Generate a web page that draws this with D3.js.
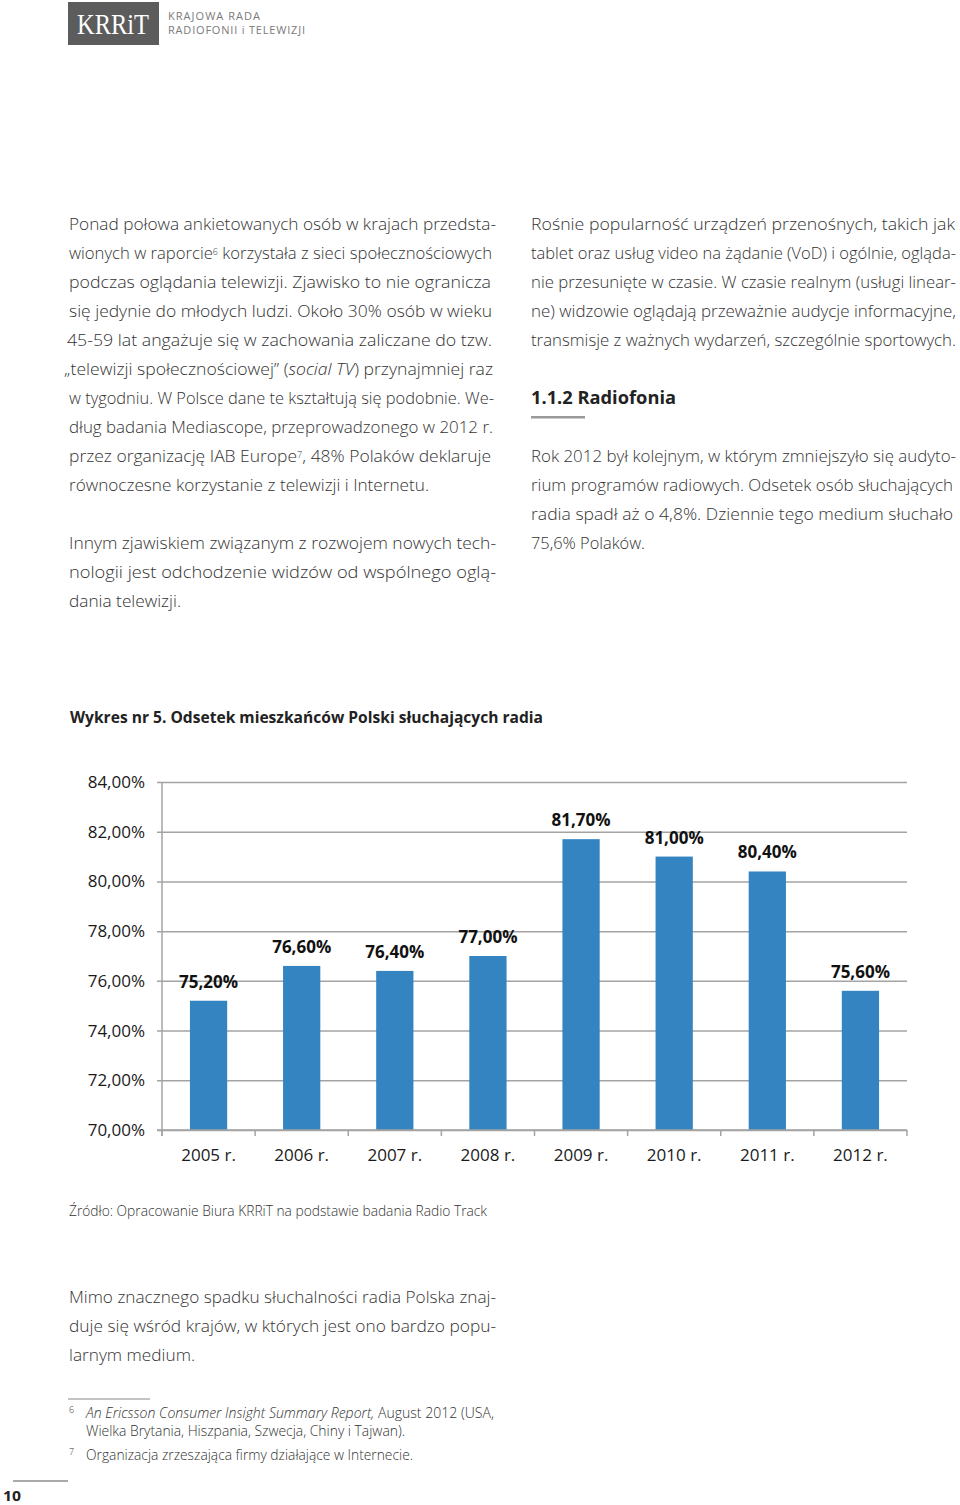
<!DOCTYPE html>
<html><head><meta charset="utf-8">
<script src="https://cdn.jsdelivr.net/npm/d3@7"></script>
<style>body{margin:0;background:#fff}svg{display:block}</style>
</head><body><svg id="c" width="960" height="1505"></svg>
<script>
// ---- chart data ----
const categories = ["2005 r.","2006 r.","2007 r.","2008 r.","2009 r.","2010 r.","2011 r.","2012 r."];
const values = [75.2, 76.6, 76.4, 77.0, 81.7, 81.0, 80.4, 75.6];
const yTicks = [70, 72, 74, 76, 78, 80, 82, 84];
const chartTitle = "Wykres nr 5. Odsetek mieszkańców Polski słuchających radia";
const sourceText = "Źródło: Opracowanie Biura KRRiT na podstawie badania Radio Track";

const fmt = v => d3.format(".2f")(v).replace(".", ",") + "%";
const svg = d3.select("#c");
const BODY = "'Open Sans', 'Noto Sans', sans-serif";
const TXT = "#333";

// ---- page furniture ----
const hdr = svg.append("g");
hdr.append("rect").attr("x",68).attr("y",2).attr("width",91).attr("height",43).attr("fill","#5c5c5c");
hdr.append("text").attr("x",113).attr("y",34).attr("text-anchor","middle")
  .attr("font-family","'Liberation Serif','DejaVu Serif',serif").attr("font-size",30)
  .attr("fill","#fff").attr("textLength",72).attr("lengthAdjust","spacingAndGlyphs").text("KRRiT");
hdr.append("text").attr("x",168).attr("y",20).attr("font-family",BODY).attr("font-size",11)
  .attr("fill","#7a7a7a").attr("textLength",92).attr("lengthAdjust","spacing").text("KRAJOWA RADA");
hdr.append("text").attr("x",168).attr("y",34).attr("font-family",BODY).attr("font-size",11)
  .attr("fill","#7a7a7a").attr("textLength",137).attr("lengthAdjust","spacing").text("RADIOFONII i TELEWIZJI");

function line(x, y, segs, width, opts={}) {
  let size = opts.size || 17;
  const t = svg.append("text").attr("x", x).attr("y", y)
    .attr("font-family", opts.family || BODY).attr("font-size", size)
    .attr("font-weight", opts.weight || 300).attr("fill", opts.fill || TXT);
  segs.forEach(s => {
    if (typeof s === "string") t.append("tspan").text(s);
    else if (s.sup) t.append("tspan").attr("baseline-shift","4").attr("font-size",9).text(s.s);
    else if (s.it) t.append("tspan").attr("font-style","italic").text(s.s);
  });
  if (width) {
    const natural = t.node().getComputedTextLength();
    if (x + natural > 956) {
      size = size * (956 - x) / natural;
      t.attr("font-size", size.toFixed(2));
    }
    t.attr("textLength", width).attr("lengthAdjust","spacingAndGlyphs");
  }
  return t;
}

const bodyLines = [
  [224, 69, 496, ["Ponad połowa ankietowanych osób w krajach przedsta-"]],
  [253, 69, 492, ["wionych w raporcie", {s:"6",sup:true}, " korzystała z sieci społecznościowych"]],
  [282, 69, 491, ["podczas oglądania telewizji. Zjawisko to nie ogranicza"]],
  [311, 69, 492, ["się jedynie do młodych ludzi. Około 30% osób w wieku"]],
  [340, 67, 492, ["45-59 lat angażuje się w zachowania zaliczane do tzw."]],
  [369, 64, 493, ["„telewizji społecznościowej” (", {s:"social TV",it:true}, ") przynajmniej raz"]],
  [398, 69, 494, ["w tygodniu. W Polsce dane te kształtują się podobnie. We-"]],
  [427, 69, 493, ["dług badania Mediascope, przeprowadzonego w 2012 r."]],
  [456, 69, 491, ["przez organizację IAB Europe", {s:"7",sup:true}, ", 48% Polaków deklaruje"]],
  [485, 69, 429, ["równoczesne korzystanie z telewizji i Internetu."]],
  [543, 69, 496, ["Innym zjawiskiem związanym z rozwojem nowych tech-"]],
  [572, 69, 496, ["nologii jest odchodzenie widzów od wspólnego oglą-"]],
  [601, 69, 181, ["dania telewizji."]],
  [224, 531, 955, ["Rośnie popularność urządzeń przenośnych, takich jak"]],
  [253, 531, 956, ["tablet oraz usług video na żądanie (VoD) i ogólnie, ogląda-"]],
  [282, 531, 956, ["nie przesunięte w czasie. W czasie realnym (usługi linear-"]],
  [311, 531, 956, ["ne) widzowie oglądają przeważnie audycje informacyjne,"]],
  [340, 531, 956, ["transmisje z ważnych wydarzeń, szczególnie sportowych."]],
  [456, 531, 956, ["Rok 2012 był kolejnym, w którym zmniejszyło się audyto-"]],
  [485, 531, 953, ["rium programów radiowych. Odsetek osób słuchających"]],
  [514, 531, 953, ["radia spadł aż o 4,8%. Dziennie tego medium słuchało"]],
  [543, 531, 645, ["75,6% Polaków."]],
  [1297, 69, 496, ["Mimo znacznego spadku słuchalności radia Polska znaj-"]],
  [1326, 69, 496, ["duje się wśród krajów, w których jest ono bardzo popu-"]],
  [1355, 69, 195, ["larnym medium."]]
];
bodyLines.forEach(([cy, x0, x1, segs]) => line(x0, cy + 6, segs, x1 - x0));

line(531, 404, ["1.1.2 Radiofonia"], 145, {weight:700, fill:"#222"});
svg.append("rect").attr("x",531).attr("y",416).attr("width",54).attr("height",2.5).attr("fill","#9a9a9a");

line(70, 723, [chartTitle], 473, {weight:700, size:16, fill:"#222"});
line(69, 1216, [sourceText], 418, {size:14});

// footnotes
svg.append("line").attr("x1",68).attr("x2",150).attr("y1",1399).attr("y2",1399).attr("stroke","#888").attr("stroke-width",1);
line(69, 1413, ["6"], null, {size:9});
line(86, 1418, [{s:"An Ericsson Consumer Insight Summary Report,",it:true}, " August 2012 (USA,"], 408, {size:14});
line(86, 1436, ["Wielka Brytania, Hiszpania, Szwecja, Chiny i Tajwan)."], 319, {size:14});
line(69, 1455, ["7"], null, {size:9});
line(86, 1460, ["Organizacja zrzeszająca firmy działające w Internecie."], 327, {size:14});
svg.append("line").attr("x1",13).attr("x2",68).attr("y1",1481).attr("y2",1481).attr("stroke","#555").attr("stroke-width",1);
line(3, 1501, ["10"], 18, {weight:700, size:14, fill:"#222"});

// ---- chart ----
const x = d3.scaleBand().domain(categories).range([162, 907]).paddingInner(0.6).paddingOuter(0.3);
const y = d3.scaleLinear().domain([70, 84]).range([1130, 782]);
const GRID = "#a3a3a3";
const ch = svg.append("g");

// gridlines + y labels via axis
const yAxis = d3.axisLeft(y).tickValues(yTicks).tickFormat(fmt).tickSize(-750).tickPadding(12);
const ya = ch.append("g").attr("transform","translate(157,0)").call(yAxis);
ya.select(".domain").remove();
ya.selectAll(".tick line").attr("stroke", GRID).attr("stroke-width",1.5);
ya.selectAll(".tick text").attr("font-family",BODY).attr("font-size",17).attr("fill","#1a1a1a")
  .attr("x",-12).attr("dy","0.32em");

// vertical axis line
ch.append("line").attr("x1",162).attr("x2",162).attr("y1",y(84)).attr("y2",y(70)+6)
  .attr("stroke",GRID).attr("stroke-width",1.5);

// bars
ch.selectAll("rect.bar").data(values).join("rect").attr("class","bar")
  .attr("x",(d,i)=>x(categories[i])).attr("width",x.bandwidth())
  .attr("y",d=>y(d)).attr("height",d=>y(70)-y(d)).attr("fill","#3384c0");

// x axis with ticks at band boundaries
const step = x.step();
const bounds = d3.range(categories.length + 1).map(i => 162 + i * step);
ch.selectAll("line.xt").data(bounds).join("line").attr("class","xt")
  .attr("x1",d=>d).attr("x2",d=>d).attr("y1",y(70)).attr("y2",y(70)+6)
  .attr("stroke",GRID).attr("stroke-width",1.5);
const xAxis = d3.axisBottom(x).tickSize(0).tickPadding(19);
const xa = ch.append("g").attr("transform",`translate(0,${y(70)})`).call(xAxis);
xa.select(".domain").remove();
xa.selectAll(".tick text").attr("font-family",BODY).attr("font-size",17).attr("fill","#1a1a1a");
ch.append("line").attr("x1",157).attr("x2",907).attr("y1",y(70)).attr("y2",y(70))
  .attr("stroke",GRID).attr("stroke-width",1.5);

// value labels
ch.selectAll("text.vl").data(values).join("text").attr("class","vl")
  .attr("x",(d,i)=>x(categories[i]) + x.bandwidth()/2).attr("y",d=>y(d)-13)
  .attr("text-anchor","middle").attr("font-family",BODY).attr("font-weight",700)
  .attr("font-size",17).attr("fill","#111").text(fmt);
</script></body></html>
